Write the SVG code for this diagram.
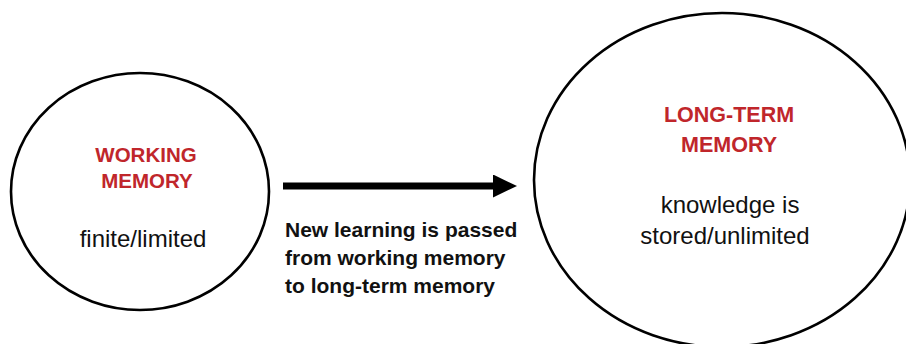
<svg xmlns="http://www.w3.org/2000/svg" width="906" height="344" viewBox="0 0 906 344">
<style>
.node ellipse{fill:#fff;stroke:#000;stroke-width:2.6}
.head{font-family:"Liberation Sans",Arial,sans-serif;font-weight:bold;fill:#C0262B;text-anchor:middle}
.body{font-family:"Liberation Sans",Arial,sans-serif;fill:#111;text-anchor:middle;font-size:24px}
.lbl{font-family:"Liberation Sans",Arial,sans-serif;font-weight:bold;fill:#111;font-size:21px}
</style>
<defs>
<marker id="ah" markerWidth="24" markerHeight="23" refX="0" refY="11.5" orient="auto" markerUnits="userSpaceOnUse">
<polygon points="0,0 24,11.5 0,23" fill="#000"/>
</marker>
</defs>
<rect width="906" height="344" fill="#fff"/>
<g id="working-memory" class="node">
<ellipse cx="140" cy="191.5" rx="129" ry="118.5"/>
<text class="head" x="146" y="162" font-size="20.5">WORKING</text>
<text class="head" x="147" y="188" font-size="20.5">MEMORY</text>
<text class="body" x="143" y="247" font-size="25">finite/limited</text>
</g>
<g id="long-term-memory" class="node">
<ellipse cx="722" cy="180" rx="188" ry="167"/>
<text class="head" x="729" y="122" font-size="21.5">LONG-TERM</text>
<text class="head" x="729" y="152" font-size="21.5">MEMORY</text>
<text class="body" x="730" y="213">knowledge is</text>
<text class="body" x="725" y="244">stored/unlimited</text>
</g>
<g id="connectors">
<line x1="283" y1="186" x2="493" y2="186" stroke="#000" stroke-width="7" marker-end="url(#ah)"/>
<text class="lbl" x="285" y="237">New learning is passed</text>
<text class="lbl" x="285" y="265">from working memory</text>
<text class="lbl" x="285" y="293">to long-term memory</text>
</g>
</svg>
